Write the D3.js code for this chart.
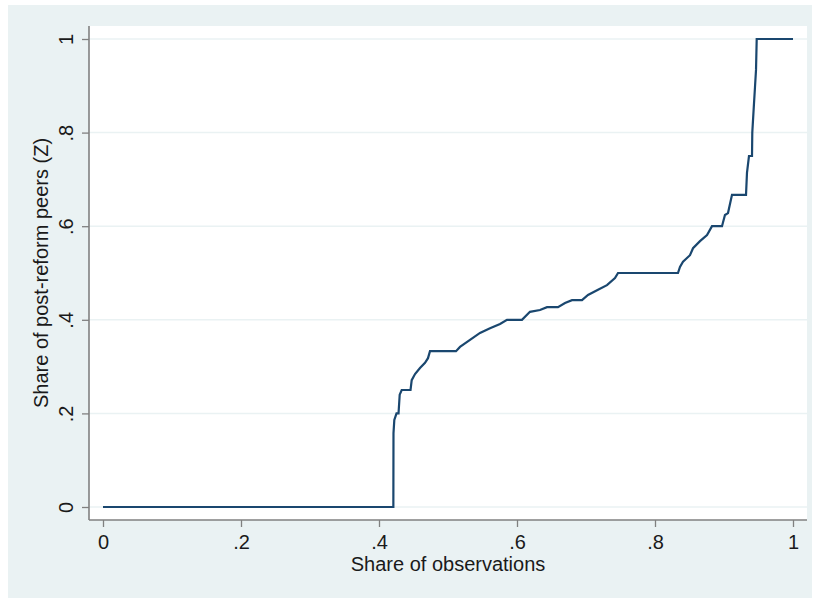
<!DOCTYPE html>
<html>
<head>
<meta charset="utf-8">
<script src="https://cdn.jsdelivr.net/npm/d3@7"></script>
<style>
  html, body { margin: 0; padding: 0; background: #ffffff; }
  svg { display: block; }
  text { font-family: "Liberation Sans", Arial, Helvetica, sans-serif; fill: #1a1a1a; }
</style>
</head>
<body>
<svg id="chart" width="816" height="598"></svg>
<script>
// ---- Data ----
const shareObs = [0, 0.4208, 0.4210, 0.4222, 0.4254, 0.4283, 0.4300, 0.4329, 0.4457, 0.4474, 0.4522, 0.4594,
  0.4667, 0.4710, 0.4739, 0.5116, 0.5174, 0.5319, 0.5464, 0.5609, 0.5754, 0.5855, 0.6072, 0.6188, 0.6333,
  0.6435, 0.6594, 0.6696, 0.6797, 0.6942, 0.7029, 0.7174, 0.7304, 0.7420, 0.7464, 0.8333, 0.8362, 0.8406,
  0.8507, 0.8551, 0.8652, 0.8754, 0.8826, 0.8971, 0.9014, 0.9058, 0.9116, 0.9319, 0.9333, 0.9362, 0.9406,
  0.9410, 0.9435, 0.9449, 0.9464, 0.9474, 1.0];
const sharePeers = [0, 0, 0.158, 0.186, 0.200, 0.200, 0.240, 0.250, 0.250, 0.271, 0.284, 0.297,
  0.308, 0.318, 0.333, 0.333, 0.342, 0.357, 0.372, 0.382, 0.391, 0.400, 0.400, 0.417, 0.421,
  0.427, 0.427, 0.436, 0.442, 0.442, 0.453, 0.464, 0.474, 0.489, 0.500, 0.500, 0.513, 0.524,
  0.538, 0.553, 0.568, 0.581, 0.600, 0.600, 0.624, 0.628, 0.667, 0.667, 0.714, 0.750, 0.750,
  0.800, 0.863, 0.897, 0.934, 1.0, 1.0];
const xTicks = [0, 0.2, 0.4, 0.6, 0.8, 1];
const xTickLabels = ["0", ".2", ".4", ".6", ".8", "1"];
const yTicks = [0, 0.2, 0.4, 0.6, 0.8, 1];
const yTickLabels = ["0", ".2", ".4", ".6", ".8", "1"];
const xTitle = "Share of observations";
const yTitle = "Share of post-reform peers (Z)";

const points = shareObs.map((v, i) => ({ x: v, y: sharePeers[i] }));

// ---- Layout ----
const svg = d3.select("#chart");
const bgColor = "#eaf2f3";
const lineColor = "#1a476f";
const axisColor = "#808080";
const plotL = 89, plotR = 807, plotT = 26, plotB = 520;

const x = d3.scaleLinear().domain([0, 1]).range([103, 793]);
const y = d3.scaleLinear().domain([0, 1]).range([507, 39]);

// Outer background
svg.append("rect").attr("x", 8).attr("y", 5).attr("width", 804).attr("height", 593).attr("fill", bgColor);
// Plot region
svg.append("rect").attr("x", plotL).attr("y", plotT).attr("width", plotR - plotL).attr("height", plotB - plotT).attr("fill", "#ffffff");

// Gridlines
svg.append("g").selectAll("line").data(yTicks).join("line")
  .attr("x1", plotL).attr("x2", plotR)
  .attr("y1", d => y(d)).attr("y2", d => y(d))
  .attr("stroke", bgColor).attr("stroke-width", 1.5);

// Line
const line = d3.line().x(d => x(d.x)).y(d => y(d.y)).curve(d3.curveLinear);
svg.append("path").datum(points)
  .attr("d", line)
  .attr("fill", "none")
  .attr("stroke", lineColor)
  .attr("stroke-width", 2.2)
  .attr("stroke-linejoin", "miter");

// X axis
const xAxis = d3.axisBottom(x).tickValues(xTicks).tickFormat((d, i) => xTickLabels[i]).tickSize(7).tickPadding(8).tickSizeOuter(0);
const gx = svg.append("g").attr("transform", `translate(0,${plotB})`).call(xAxis);
gx.select(".domain").remove();
gx.selectAll(".tick line").attr("stroke", axisColor).attr("stroke-width", 1.3);
gx.selectAll(".tick text").attr("font-size", 20).attr("fill", "#1a1a1a")
  .attr("font-family", '"Liberation Sans", Arial, sans-serif');
gx.append("line").attr("x1", plotL).attr("x2", plotR).attr("y1", 0).attr("y2", 0)
  .attr("stroke", axisColor).attr("stroke-width", 1.6);

// Y axis
const yAxis = d3.axisLeft(y).tickValues(yTicks).tickFormat((d, i) => yTickLabels[i]).tickSize(7).tickPadding(0).tickSizeOuter(0);
const gy = svg.append("g").attr("transform", `translate(${plotL},0)`).call(yAxis);
gy.select(".domain").remove();
gy.selectAll(".tick line").attr("stroke", axisColor).attr("stroke-width", 1.3);
gy.selectAll(".tick text")
  .attr("font-size", 20).attr("fill", "#1a1a1a")
  .attr("font-family", '"Liberation Sans", Arial, sans-serif')
  .attr("x", null).attr("dy", null)
  .attr("text-anchor", "middle")
  .attr("transform", "translate(-16,0) rotate(-90)")
  .attr("y", 0);
gy.append("line").attr("x1", 0).attr("x2", 0).attr("y1", plotT).attr("y2", plotB)
  .attr("stroke", axisColor).attr("stroke-width", 1.6);

// Axis titles
svg.append("text").attr("x", (x(0) + x(1)) / 2).attr("y", 571)
  .attr("text-anchor", "middle").attr("font-size", 20).text(xTitle);
svg.append("text")
  .attr("transform", `translate(48,${(y(0) + y(1)) / 2}) rotate(-90)`)
  .attr("text-anchor", "middle").attr("font-size", 20).text(yTitle);
</script>
</body>
</html>
